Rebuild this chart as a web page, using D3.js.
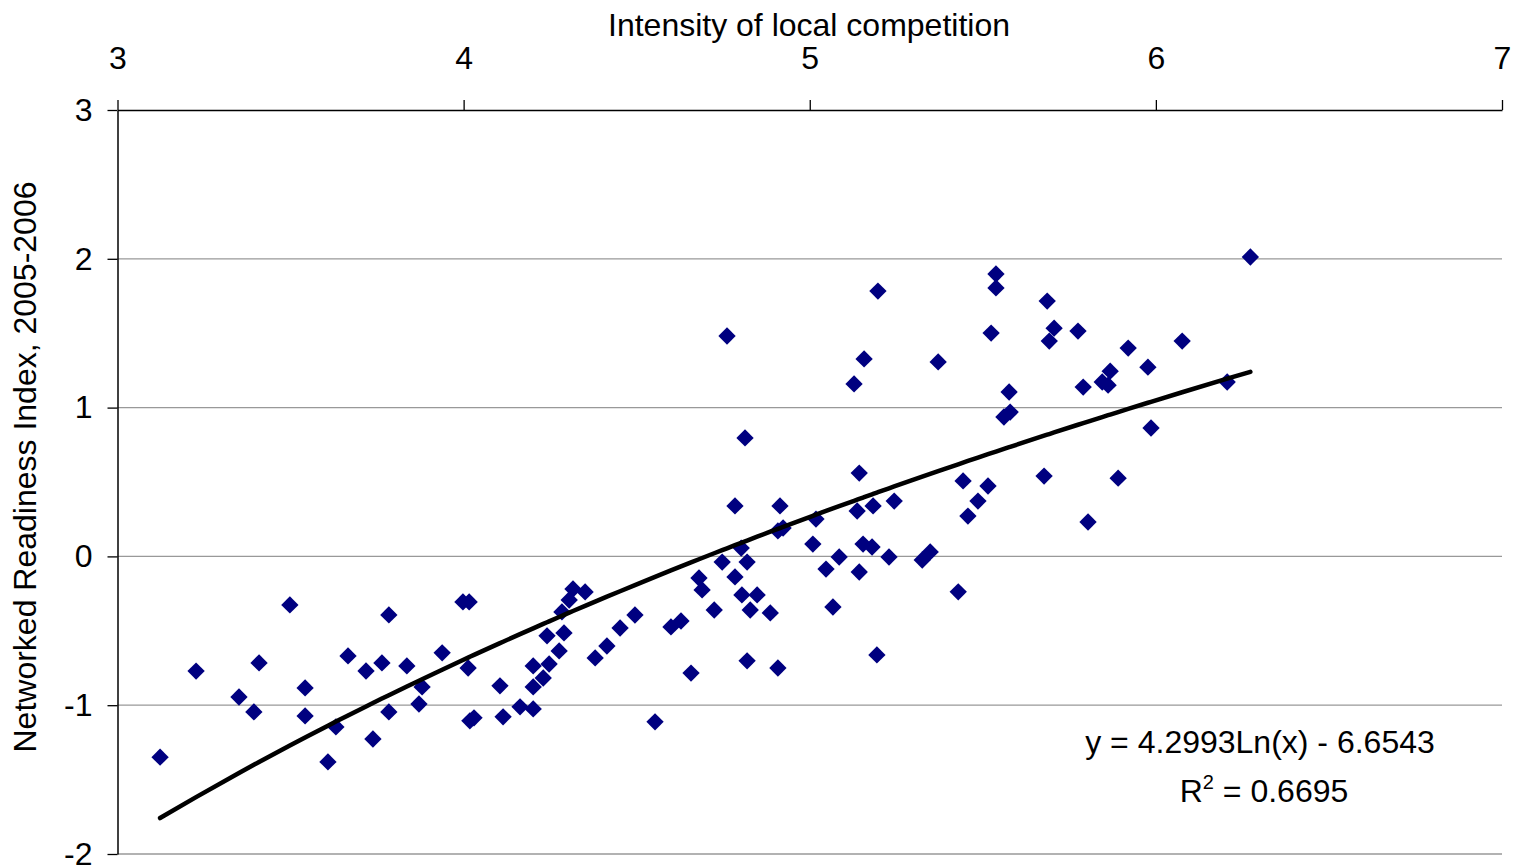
<!DOCTYPE html>
<html>
<head>
<meta charset="utf-8">
<script src="https://cdn.jsdelivr.net/npm/d3@7"></script>
<style>
  html, body { margin: 0; padding: 0; background: #fff; }
  svg { display: block; font-family: "Liberation Sans", Arial, sans-serif; }
</style>
</head>
<body>
<div id="chart"></div>
<script>
// Intensity of local competition (x) vs Networked Readiness Index (y)
const competition = [
  3.123, 3.227, 3.351, 3.394, 3.409, 3.498, 3.542, 3.542, 3.608, 3.631,
  3.666, 3.718, 3.738, 3.764, 3.784, 3.784, 3.836, 3.871, 3.880, 3.938,
  3.998, 4.016, 4.013, 4.018, 4.030, 4.105, 4.114, 4.163, 4.201, 4.201,
  4.201, 4.230, 4.241, 4.247, 4.276, 4.290, 4.284, 4.305, 4.316, 4.351,
  4.380, 4.414, 4.452, 4.495, 4.553, 4.599, 4.628, 4.657, 4.680, 4.689,
  4.724, 4.747, 4.761, 4.784, 4.784, 4.802, 4.804, 4.813, 4.819, 4.819,
  4.828, 4.848, 4.886, 4.908, 4.914, 4.908, 4.923, 5.009, 5.018, 5.047,
  5.067, 5.085, 5.128, 5.137, 5.143, 5.143, 5.154, 5.157, 5.180, 5.183,
  5.197, 5.194, 5.229, 5.244, 5.325, 5.348, 5.371, 5.429, 5.443, 5.457,
  5.486, 5.515, 5.524, 5.538, 5.538, 5.561, 5.579, 5.576, 5.677, 5.686,
  5.692, 5.706, 5.775, 5.790, 5.804, 5.845, 5.862, 5.868, 5.891, 5.920,
  5.977, 5.986, 6.076, 6.206, 6.273
];
const readiness = [
  -1.349, -0.771, -0.945, -1.045, -0.716, -0.326, -0.884, -1.072, -1.381, -1.146,
  -0.669, -0.770, -1.227, -0.716, -0.393, -1.045, -0.736, -0.992, -0.877, -0.648,
  -0.306, -0.306, -0.750, -1.105, -1.085, -0.870, -1.078, -1.011, -0.736, -1.025,
  -0.877, -0.817, -0.534, -0.723, -0.635, -0.514, -0.373, -0.293, -0.219, -0.239,
  -0.682, -0.602, -0.481, -0.394, -1.112, -0.474, -0.434, -0.784, -0.145, -0.225,
  -0.360, -0.038, 1.481, 0.339, -0.138, 0.056, -0.259, 0.796, -0.038, -0.702,
  -0.360, -0.259, -0.380, -0.750, 0.339, 0.171, 0.191, 0.083, 0.251, -0.085,
  -0.340, -0.004, 1.159, 0.305, 0.560, -0.105, 0.083, 1.327, 0.063, 0.339,
  1.783, -0.662, -0.004, 0.372, -0.024, 0.030, 1.307, -0.238, 0.507, 0.271,
  0.372, 0.473, 1.501, 1.898, 1.804, 0.937, 0.970, 1.105, 0.540, 1.716,
  1.447, 1.534, 1.514, 1.138, 0.231, 1.172, 1.151, 1.245, 0.526, 1.400,
  1.272, 0.863, 1.447, 1.172, 2.012
];
const xTicks = [3, 4, 5, 6, 7];
const yTicks = [-2, -1, 0, 1, 2, 3];
// logarithmic trendline as printed on the chart
const trendA = 4.2993;
const trendB = -6.6543;
const trendLabel = 'y = 4.2993Ln(x) - 6.6543';
const r2Label = '0.6695';

const width = 1522, height = 868;
const margin = { top: 110, right: 20, bottom: 14, left: 117.5 };
const FONT = 32;

const svg = d3.select('#chart').append('svg')
  .attr('width', width).attr('height', height);

const x = d3.scaleLinear().domain([3, 7]).range([margin.left, width - margin.right]);
const y = d3.scaleLinear().domain([-2, 3]).range([height - margin.bottom, margin.top]);

const points = competition.map((c, i) => ({ x: c, y: readiness[i] }));
const plain = (d) => String(d); // hyphen minus, like the original

// Gridlines
svg.append('g')
  .selectAll('line').data(yTicks.filter((t) => t !== 3)).join('line')
  .attr('x1', x(3)).attr('x2', x(7))
  .attr('y1', (d) => y(d)).attr('y2', (d) => y(d))
  .attr('stroke', '#999').attr('stroke-width', 1.3);

const styleAxis = (g) => {
  g.select('.domain').attr('stroke', '#000').attr('stroke-width', 1.5);
  g.selectAll('line').attr('stroke', '#000').attr('stroke-width', 1.3);
  g.selectAll('text').attr('font-size', FONT).attr('fill', '#000')
    .attr('font-family', '"Liberation Sans", Arial, sans-serif');
};

// Top x axis
svg.append('g').attr('transform', `translate(0,${y(3)})`)
  .call(d3.axisTop(x).tickValues(xTicks).tickSize(10).tickSizeOuter(0).tickPadding(31).tickFormat(plain))
  .call(styleAxis);

// Left y axis
svg.append('g').attr('transform', `translate(${x(3)},0)`)
  .call(d3.axisLeft(y).tickValues(yTicks).tickSize(10).tickSizeOuter(0).tickPadding(15).tickFormat(plain))
  .call(styleAxis);

// Axis titles
svg.append('text')
  .attr('x', 809).attr('y', 36)
  .attr('text-anchor', 'middle').attr('font-size', FONT)
  .text('Intensity of local competition');

svg.append('text')
  .attr('transform', `translate(36,467) rotate(-90)`)
  .attr('text-anchor', 'middle').attr('font-size', FONT)
  .text('Networked Readiness Index, 2005-2006');

// Points
svg.append('g')
  .selectAll('path').data(points).join('path')
  .attr('d', d3.symbol(d3.symbolSquare, 150))
  .attr('transform', (d) => `translate(${x(d.x)},${y(d.y)}) rotate(45)`)
  .attr('fill', '#000080');

// Trendline, evaluated at each observed x
const trend = competition.slice().sort(d3.ascending)
  .map((c) => ({ x: c, y: trendA * Math.log(c) + trendB }));
svg.append('path').datum(trend)
  .attr('fill', 'none').attr('stroke', '#000').attr('stroke-width', 4.5)
  .attr('stroke-linejoin', 'round').attr('stroke-linecap', 'round')
  .attr('d', d3.line().x((d) => x(d.x)).y((d) => y(d.y)));

// Equation label
const eq = svg.append('g').attr('font-size', FONT).attr('text-anchor', 'middle');
eq.append('text').attr('x', 1260).attr('y', 753).text(trendLabel);
const r2 = eq.append('text').attr('x', 1264).attr('y', 802);
r2.append('tspan').text('R');
r2.append('tspan').attr('font-size', 20).attr('dy', -13).text('2');
r2.append('tspan').attr('dy', 13).text(' = ' + r2Label);
</script>
</body>
</html>
